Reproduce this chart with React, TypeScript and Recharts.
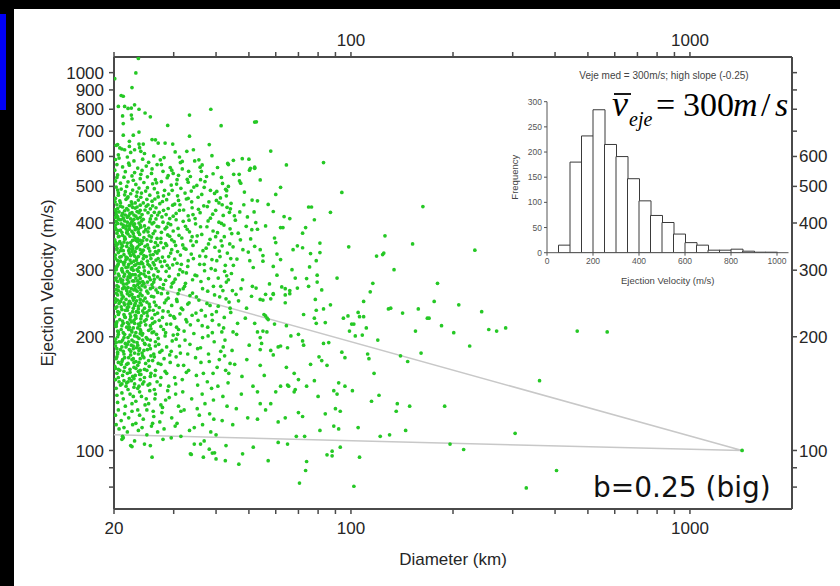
import React from 'react';
import { ScatterChart, Scatter, XAxis, YAxis, Label, BarChart, Bar } from 'recharts';

const FONT = '"Liberation Sans", Arial, Helvetica, sans-serif';

// ---- main chart axes ----
const DIAM_DOMAIN = [20, 2000];
const VEL_DOMAIN = [70, 1100];
const DIAM_TICKS = [20, 30, 40, 50, 60, 70, 80, 90, 100, 200, 300, 400, 500, 600, 700, 800, 900, 1000];
const BOTTOM_LABELS = [20, 100, 1000];
const TOP_LABELS = [100, 1000];
const VEL_TICKS = [80, 90, 100, 200, 300, 400, 500, 600, 700, 800, 900, 1000];
const LEFT_LABELS = [100, 200, 300, 400, 500, 600, 700, 800, 900, 1000];
const RIGHT_LABELS = [100, 200, 300, 400, 500, 600];

// ---- trend lines (b = 0.25) ----
const TREND_D = [20, 1425, 20];
const TREND_V = [110, 100, 290];

// ---- scatter: [diameter km, ejection velocity m/s] ----
const TOP_FRINGE: number[][] = [
  [23.6,1090],[23.2,998],[20.1,964],[22.6,913],[21,870],[21.3,866],[20.6,814],[21.5,814],[22,804],[22.5,806],
  [23,822],[23.7,800],[24.7,782],[25.6,764],[21.2,768],[22.5,772],[22.6,755],[21.3,733],[38.6,800],[33.4,772],
  [28.8,725],[41.4,724],[52.6,741],[23.7,696],[21.3,683],[22.8,683],[22.2,658],[20.5,645],[33.4,679],[25.9,665],
  [26.5,664],[27,651],[28.3,651],[29.8,647],[24.4,647],[20.8,632],[21.5,625],[22.2,638],[23,625],[23.7,647],
  [24,619],[38.2,645],[32.8,619],[34.3,625],[30.3,617],[43.3,575],[45,586],[50,590],[50.5,558],[52,558],
  [35.6,588],[36.4,570],[29.6,552],[31,535],[33.1,513],[36,521],[46.8,538],[47.3,510],[43.5,500],[40.2,485],[43,487],
];

const CORE_A: number[][] = [
  [20.3,642],[21.1,628],[22.4,615],[23.8,633],[20.6,606],[21.9,598],[24.6,611],[26.2,602],[28.1,596],[20.2,589],[22.9,584],[25.3,579],[27.4,588],
  [20.4,571],[21.2,563],[22.1,576],[23.5,559],[24.9,566],[26.8,571],[29.3,561],[20.1,552],[21.6,547],[23.0,544],[24.2,551],[25.8,541],[27.9,548],
  [20.5,536],[21.4,529],[22.6,533],[23.9,524],[25.1,530],[26.5,521],[28.7,527],[20.2,517],[20.9,510],[22.0,514],[23.2,506],[24.5,512],[26.0,508],[27.6,515],[29.5,504],
  [20.3,498],[21.0,492],[21.8,500],[22.7,489],[23.7,495],[24.8,486],[26.3,493],[28.2,488],[20.6,481],[21.5,475],[22.4,478],[23.3,471],[24.1,480],[25.5,474],[27.0,469],[29.0,477],
  [20.2,465],[20.8,458],[21.7,462],[22.5,455],[23.6,460],[24.4,452],[25.9,457],[27.3,450],[28.6,461],[20.4,447],[21.2,441],[22.2,445],[23.1,438],[24.9,443],[26.6,439],[29.8,446],
  [20.1,434],[20.7,428],[21.5,431],[22.3,424],[23.4,429],[24.2,421],[25.2,426],[26.9,420],[28.0,432],[20.5,416],[21.3,412],[22.1,418],[22.9,409],[23.9,414],[25.6,410],[27.7,415],[29.2,411],
  [20.3,404],[21.0,398],[21.9,402],[22.8,395],[23.7,400],[24.6,393],[25.9,398],[27.1,391],[28.9,399],[20.2,388],[20.9,383],[21.7,386],[22.6,380],[23.3,389],[24.8,384],[26.4,381],[28.3,386],
  [20.4,376],[21.2,371],[22.0,374],[22.9,368],[23.8,373],[24.5,366],[25.4,370],[26.8,364],[28.8,372],[20.1,361],[20.8,357],[21.6,363],[22.4,355],[23.2,360],[24.1,353],[25.7,358],[27.5,355],[29.6,361],
  [20.3,349],[21.0,344],[21.8,347],[22.7,341],[23.5,346],[24.4,339],[25.3,343],[26.5,336],[28.0,344],[20.6,334],[21.4,330],[22.2,333],[23.0,327],[24.0,332],[24.9,326],[26.1,330],[27.8,325],[29.4,333],
  [20.2,322],[20.9,317],[21.7,320],[22.5,314],[23.3,319],[24.3,312],[25.1,317],[26.3,310],[27.4,316],[28.7,309],[20.4,307],[21.1,303],[22.0,306],[22.8,300],[23.7,305],[24.6,299],[25.8,303],[27.0,298],[29.1,304],
  [20.1,295],[20.7,290],[21.5,293],[22.3,287],[23.1,292],[23.9,285],[24.8,289],[25.6,283],[26.9,288],[28.4,282],[20.5,280],[21.3,276],[22.1,279],[22.9,273],[23.8,278],[24.7,271],[25.9,275],[27.3,270],[29.7,277],
  [20.3,267],[21.0,262],[21.8,265],[22.6,259],[23.4,264],[24.2,257],[25.2,261],[26.2,255],[27.6,260],[28.9,253],[20.2,252],[20.9,248],[21.7,251],[22.4,245],[23.3,249],[24.1,243],[25.0,247],[26.6,242],[28.2,246],
  [20.4,240],[21.1,236],[21.9,239],[22.7,233],[23.6,237],[24.5,231],[25.4,235],[26.4,229],[27.9,234],[29.3,228],[20.1,226],[20.8,222],[21.6,225],[22.5,219],[23.2,224],[24.0,218],[24.9,222],[26.0,217],[27.2,221],[28.6,216],
  [20.3,213],[21.0,209],[21.8,212],[22.6,206],[23.5,211],[24.3,204],[25.3,208],[26.7,203],[28.0,209],[29.9,202],[20.5,200],[21.2,196],[22.0,199],[22.9,194],[23.7,198],[24.6,192],[25.6,196],[27.1,191],
  [20.2,189],[20.9,185],[21.7,188],[22.4,183],[23.3,187],[24.2,181],[25.1,185],[26.2,180],[27.7,184],[29.2,179],[20.4,177],[21.2,174],[22.1,176],[22.9,171],[23.9,175],[24.8,170],[26.0,173],[27.5,169],
  [20.1,167],[20.8,163],[21.5,166],[22.3,161],[23.2,165],[24.0,159],[25.0,163],[26.4,158],[28.3,162],[20.6,156],[21.4,153],[22.2,155],[23.0,150],[23.9,154],[25.2,149],[26.8,152],[29.0,148],
  [20.3,146],[21.1,142],[22.0,145],[22.8,139],[23.8,143],[24.9,137],[26.5,141],[28.4,136],[20.5,134],[21.6,131],[22.6,133],[23.5,128],[24.7,132],[26.1,127],[27.8,130],
  [20.2,124],[21.0,120],[22.1,122],[23.2,118],[24.4,121],[25.8,116],[27.3,119],[20.7,114],[21.9,112],[23.6,113],[25.0,110],[26.9,112],[21.3,108],[23.0,106],[24.6,104],[22.4,103],[27.9,107],[25.9,96],[29.5,108],
];

const CORE_B: number[][] = [
  [20.6,474],[21.9,466],[23.1,452],[24.0,468],[25.2,447],[26.4,463],
  [20.5,437],[21.6,420],[22.7,440],[23.9,432],[25.6,436],[26.3,427],
  [20.8,408],[21.8,393],[22.4,410],[23.0,398],[24.1,405],[25.3,388],[26.2,401],
  [20.6,382],[21.5,367],[22.2,385],[23.5,363],[24.5,379],[25.0,361],[26.1,375],
  [20.5,352],[21.4,356],[22.5,349],[23.8,351],[24.7,347],[25.5,337],[26.9,349],
  [20.9,338],[21.7,325],[22.6,336],[23.3,323],[24.5,328],[25.7,322],[26.8,333],
  [20.6,312],[21.4,310],[22.3,319],[23.0,309],[24.1,315],[25.5,308],[26.6,319],
  [20.3,301],[21.2,297],[22.2,294],[23.6,298],[24.5,293],[25.3,296],[26.2,291],
  [20.9,284],[21.9,283],[22.7,292],[23.5,281],[24.3,280],[25.1,279],[26.3,284],
  [20.6,271],[21.6,269],[22.5,268],[23.1,272],[24.0,266],[25.6,268],[26.6,266],
  [20.5,258],[21.3,255],[22.2,257],[23.0,254],[23.9,260],[24.7,253],[25.8,256],
  [20.7,245],[21.5,243],[22.1,240],[23.0,242],[23.9,246],[24.6,238],[25.4,244],
  [20.5,233],[21.4,229],[22.3,230],[23.1,228],[24.3,234],[25.1,227],[26.1,235],
  [20.4,219],[21.3,217],[22.1,216],[22.9,221],[23.8,214],[24.6,220],[25.6,214],
  [20.6,206],[21.5,203],[22.3,202],[23.2,205],[24.0,207],[24.9,199],[25.9,205],
  [20.7,194],[21.6,192],[22.5,190],[23.4,193],[24.3,196],[25.4,190],[26.5,194],
  [20.5,182],[21.4,180],[22.8,186],[23.6,180],[24.5,184],[25.7,178],
  [20.6,171],[21.8,169],[22.6,174],[23.5,168],[24.5,176],[25.4,167],
  [20.4,160],[21.2,158],[22.7,157],[23.6,162],[24.6,156],[25.7,160],
  [20.9,149],[21.8,151],[22.9,147],[24.3,150],[25.5,144],
];

const CORE_C: number[][] = [
  [20.7,594],[22.2,569],[24.3,590],[25.9,556],[27.6,571],[29.9,541],[31.8,582],[20.4,528],[22.8,519],[24.0,538],[26.7,511],[28.9,534],[30.7,521],[33.2,548],
  [20.5,489],[21.6,484],[23.4,483],[25.1,496],[26.9,481],[28.0,472],[29.7,488],[31.0,459],[32.4,480],[33.9,455],[20.9,452],[22.0,469],[23.9,446],[25.0,462],[26.0,444],[27.8,456],[28.9,437],[30.2,449],[32.1,433],[34.2,421],
  [20.3,422],[21.1,419],[22.6,426],[23.2,417],[24.7,433],[25.8,418],[27.2,427],[28.5,421],[29.9,417],[31.2,432],[33.3,407],
  [20.6,410],[21.5,405],[22.5,401],[24.4,409],[25.5,403],[26.6,410],[27.9,402],[29.4,396],[30.5,408],[32.5,392],
  [20.2,395],[21.3,390],[22.2,392],[23.1,384],[24.0,390],[25.2,379],[26.8,392],[27.6,378],[28.6,390],[29.9,381],[31.1,371],[32.9,385],[34.0,368],
  [20.7,369],[21.8,377],[22.7,360],[23.6,378],[24.3,359],[25.8,367],[26.5,355],[27.5,364],[28.4,353],[29.2,369],[30.1,357],[31.9,350],[33.7,359],
  [20.4,340],[21.2,348],[22.1,338],[23.3,343],[24.2,335],[25.1,350],[26.3,345],[27.1,338],[28.6,349],[29.6,340],[30.8,336],[32.2,343],[33.8,331],
  [20.8,325],[21.5,315],[22.4,328],[23.5,313],[24.4,322],[25.6,329],[26.1,314],[27.0,322],[28.2,317],[29.0,326],[30.2,321],[31.6,311],[33.1,318],
  [20.5,309],[21.7,305],[22.5,302],[23.2,310],[24.5,306],[25.2,311],[26.6,303],[27.7,307],[28.5,298],[29.8,310],[31.3,301],[32.7,295],
  [20.3,286],[21.2,282],[22.0,288],[22.9,281],[23.7,290],[24.5,277],[25.4,287],[26.2,279],[27.4,284],[28.0,275],[29.1,289],[30.0,279],[31.0,292],[32.3,272],[34.1,283],
  [20.6,265],[21.4,271],[22.3,263],[23.1,267],[24.2,273],[25.0,264],[26.0,270],[26.9,262],[27.9,268],[28.8,261],[29.5,271],[30.9,260],[32.0,268],[33.5,257],
  [20.2,247],[21.1,252],[22.0,244],[22.8,250],[23.6,241],[24.4,249],[25.5,240],[26.3,247],[27.2,239],[28.5,250],[29.6,242],[30.7,248],[31.9,236],[33.0,244],
  [20.7,232],[21.6,235],[22.4,226],[23.3,233],[24.1,227],[25.0,232],[25.9,224],[26.9,231],[27.8,225],[28.9,233],[30.0,226],[31.3,230],[32.6,222],[34.0,228],
  [20.3,215],[21.2,220],[22.2,212],[23.0,217],[23.9,209],[24.8,215],[25.7,210],[26.4,219],[27.5,213],[28.4,205],[29.4,216],[30.6,212],[32.2,207],[33.6,215],
  [20.6,203],[21.4,199],[22.5,208],[23.4,200],[24.2,202],[25.1,197],[26.2,206],[27.0,198],[28.3,201],[29.7,195],[30.8,203],[32.4,196],
  [20.3,193],[21.1,188],[22.1,194],[22.8,189],[23.7,184],[24.7,191],[25.6,186],[26.5,189],[27.3,182],[28.6,188],[29.5,183],[31.2,189],[33.0,180],
  [20.5,180],[21.5,176],[22.4,179],[23.2,172],[24.3,178],[25.3,173],[26.3,177],[27.0,170],[28.1,175],[29.3,171],[30.5,177],[32.1,168],
  [20.2,165],[21.0,169],[21.9,160],[22.9,166],[23.8,159],[24.6,164],[25.6,157],[26.5,163],[27.5,156],[28.6,160],[30.2,156],[32.7,161],
  [20.7,152],[21.7,148],[22.5,153],[23.5,146],[24.5,152],[25.5,150],[26.3,145],[27.4,149],[28.8,144],[30.4,150],[31.9,143],
  [20.4,140],[21.3,137],[22.3,141],[23.2,135],[24.1,139],[25.3,133],[26.4,137],[27.5,132],[29.1,138],[31.0,131],
  [20.6,128],[21.5,125],[22.6,127],[23.8,124],[25.0,128],[26.2,123],[27.7,126],[29.6,122],[31.5,127],
  [20.3,117],[21.4,115],[22.7,117],[24.2,115],[26.0,118],[28.1,114],[30.3,116],[33.4,113],
];

const CORE_D: number[][] = [
  [20.15,455],[20.9,443],[21.8,437],[22.6,449],[23.4,441],[20.3,429],[21.2,424],[22.0,433],[22.9,420],[23.7,426],
  [20.2,414],[21.0,408],[21.9,414],[22.7,405],[23.5,411],[20.5,399],[21.3,395],[22.3,397],[23.0,391],[23.9,395],
  [20.3,384],[21.1,378],[21.9,381],[22.8,375],[23.6,385],[20.6,368],[21.5,363],[22.3,369],[23.1,365],[23.9,360],
  [20.2,356],[21.0,352],[21.9,354],[22.7,346],[23.5,357],[20.4,343],[21.3,338],[22.2,342],[23.1,336],[23.9,340],
  [20.2,329],[21.0,326],[21.9,323],[22.8,331],[23.6,326],[20.5,318],[21.3,314],[22.1,311],[22.9,317],[23.8,312],
  [20.3,304],[21.1,300],[21.9,298],[22.6,305],[23.4,301],[20.6,293],[21.4,289],[22.4,291],[23.2,286],[24.0,294],
  [20.2,283],[21.0,279],[21.8,276],[22.7,281],[23.5,275],[20.4,273],[21.2,268],[22.0,270],[22.9,266],[23.7,270],
  [20.3,261],[21.1,258],[21.9,260],[22.7,254],[23.6,256],[20.5,250],[21.4,246],[22.2,248],[23.1,245],[23.9,251],
  [20.2,238],[21.0,240],[21.9,235],[22.8,238],[23.6,232],[20.6,229],[21.5,226],[22.3,222],[23.2,227],[24.0,223],
  [20.3,217],[21.1,214],[21.9,218],[22.8,211],[23.6,216],[20.5,207],[21.3,205],[22.1,209],[23.0,201],[23.9,204],
  [20.2,197],[21.0,194],[21.9,191],[22.6,196],[23.5,190],[20.4,186],[21.3,183],[22.2,185],[23.0,181],[23.8,186],
  [20.3,175],[21.1,172],[22.0,170],[22.8,175],[23.7,171],[20.6,164],[21.4,162],[22.3,164],[23.1,158],[23.9,163],
  [20.2,154],[21.1,150],[22.0,152],[22.9,155],[23.7,148],
];

const MID_CLOUD: number[][] = [
  [31.2,598],[34.6,584],[38.9,603],[43.5,571],[47.8,592],[31.8,556],[36.2,548],[40.4,561],[45.1,538],[50.2,552],[32.9,522],[37.5,531],[41.8,509],[30.6,507],[35.1,503],[46.9,517],
  [31.5,494],[33.8,486],[36.9,497],[39.6,479],[42.7,491],[48.5,483],[30.8,472],[32.7,463],[35.4,468],[38.1,455],[41.2,466],[44.3,451],[51.1,460],[31.3,447],[34.0,439],[36.8,444],[39.9,432],[43.1,440],[47.0,428],[30.5,424],[33.1,418],[35.9,426],[38.5,412],[42.0,419],[45.6,407],[49.5,415],[32.0,404],
  [34.8,398],[37.6,391],[40.8,402],[44.0,386],[30.9,387],[33.4,379],[36.3,373],[39.2,381],[42.3,368],[46.5,376],[50.6,363],[31.7,365],[35.0,357],[38.0,352],[41.4,359],[44.9,346],[30.4,349],[32.6,341],[36.6,338],[39.7,345],[43.2,333],[48.0,340],[31.4,329],[34.3,322],[37.3,326],[40.2,318],[46.1,321],[30.7,313],[33.0,307],[35.8,311],[38.7,303],[42.6,309],[51.5,305],
  [31.9,297],[34.7,291],[37.0,299],[40.6,286],[44.4,294],[30.3,284],[32.5,277],[36.1,280],[39.3,272],[42.9,279],[47.4,268],[31.2,266],[34.1,261],[37.8,264],[41.0,255],[45.8,259],[30.6,251],[33.3,246],[35.6,250],[38.4,242],[43.7,247],[49.2,238],[31.6,238],[34.9,231],[37.2,227],[40.1,233],[30.2,224],[32.8,219],[36.4,214],[39.0,221],[42.1,211],[46.3,217],[31.0,209],[34.4,204],[37.9,201],[41.6,206],
  [30.5,197],[33.5,191],[36.0,187],[39.5,194],[44.6,184],[31.4,181],[34.8,176],[38.2,172],[42.4,178],[30.9,168],[33.2,163],[36.7,160],[40.3,166],[47.7,157],[31.8,154],[35.3,149],[38.8,146],[43.4,151],[30.4,141],[33.9,137],[37.1,133],[41.9,139],[32.2,128],[35.7,124],[39.4,121],[30.7,118],[34.5,115],[38.6,112],[44.8,117],[31.5,109],[36.9,106],[42.8,103],[33.6,98],[40.0,95],[46.7,92],
  [40.8,452],[44.1,436],[48.3,447],[51.8,428],[41.5,399],[45.3,418],[49.1,392],[52.4,401],[40.4,377],[47.2,361],[51.0,384],[43.9,352],[49.8,335],[41.1,326],[45.0,309],[50.3,318],[43.0,290],[47.9,283],[51.2,272],[41.9,265],[46.6,249],[50.9,256],[44.2,232],[48.8,224],[42.5,196],[46.0,203],[50.1,190],[41.3,183],[45.4,169],[49.3,174],[43.6,160],[47.5,141],[51.4,148],[45.9,129],[49.6,122],
];

const MID_B: number[][] = [
  [31.4,578],[35.9,562],[39.2,540],[33.6,531],[37.1,515],[41.5,528],[34.4,498],[38.5,488],[42.9,472],[36.3,476],[40.1,459],[33.1,465],[37.7,442],[41.7,447],[35.5,435],[39.1,422],
  [43.8,427],[34.7,411],[37.9,405],[42.2,395],[36.0,391],[39.9,368],[44.5,375],[35.2,370],[38.4,362],[41.7,348],[34.2,349],[37.4,343],[40.9,337],[44.2,322],[35.8,327],[38.9,320],
  [42.4,298],[36.9,311],[39.8,300],[43.5,283],[35.1,290],[38.0,285],[41.3,272],[44.7,265],[36.5,268],[39.6,258],[42.8,252],[35.0,255],[37.6,245],[40.6,241],[44.0,238],[36.2,235],
  [38.9,229],[42.3,225],[35.4,221],[37.8,212],[40.8,215],[44.9,206],[36.5,199],[39.0,205],[42.0,188],[35.3,186],[38.0,180],[40.9,174],[44.0,170],[36.1,171],[39.2,160],[42.7,163],
  [35.0,158],[37.7,152],[40.5,148],[36.4,141],[39.3,136],[43.1,131],[35.2,129],[38.3,125],[41.7,120],[36.5,117],[40.0,110],[34.5,104],
];

const LOW_EDGE: number[][] = [
  [22.6,102.4],[25.6,103],[33.8,97.6],[36,104],[36.7,96],[38.2,100.8],[39.6,98.6],[39,98.4],[42.6,94],[47.9,98],[51.5,102],[21.1,107],[21.2,109],
];

const OUTER_CLOUD: number[][] = [
  [52,740],[58,620],[64.5,570],[83,578],[94,482],[163,442],[52,562],[54,520],[53,458],[62,497],[60,476],[57,448],[59,429],[75,441],[76.5,441],[87,427],
  [63.5,416],[66,411],[78,408],[53,385],[56,393],[62,389],[63,389],[73.5,389],[72,376],[59.5,365],[60,355],[81,354],[98.5,346],[126,370],[152,352],[232,339],
  [119,327],[124,330],[125,333],[134,301],[116,277],[114,263],[180,277],[91,286],[69.5,348],[72,344],[67.5,340],[52,347],[54,340],[55,328],[55,317],[60.5,331],
  [62,320],[76,332],[81,334],[79,318],[59,307],[60.5,291],[57.5,276],[59,259],[56,259],[67,301],[68.5,286],[62.5,271],[64,268],[66,265],[69.5,269],[74,285],
  [75.5,306],[75,272],[79.5,291],[82,266],[79.5,279],[52.5,269],
  [109,248],[129,237],[131,238],[142,231],[158,237],[155,207],[95,224],[98,227],[100.5,216],[102,216],[105,232],[106,226],[109,226],[111,211],[99,207],[103,201],
  [108,202],[120,196],[112,180],[113,175],[140,178],[147,172],[117,160],[115,135],[121,140],[137,133],[136,127],[149,131],[145,113],[122,109],[130,110],[105,115],
  [106,96],[102,80.4],[93,102],[88,99.6],[88,96.8],[85,97.4],[74,93.5],[73.5,88.5],[70.5,82],[57,94],[61,105],[65,104],[69,109],[73,109],[89,116],[92,114],
  [81,113],[84,125],[90,129],[93,127],[70,126],[72,123],[61,119],[64,122],[53,121],[56,128],[58,133],[54,133],[53,143],[80,139],[89,144],[91,141],
  [96,148],[101,144],[92,151],[78,153],[74,148],[70,154],[68.5,145],[68,143],[65,149],[65.5,148],[62,148],[60,143],[68,160],[64.5,166],[76,169],[82,173],
  [85,168],[80.5,177],[94,182],[96,176],[83,192],[86,193],[70,203],[72,195],[72.5,190],[66.5,201],[65,187],[61,188],[62,189],[59,179],[58,184],[54,168],
  [55.5,158],[72.5,229],[78,224],[79,217],[84,218],[87,243],[79,235],[83,237],[64,246],[64.5,214],[54,251],[55,250],[58,252],[59,260],[59.5,216],[55,207],
  [56.5,206],[54,199],[56,227],[56.6,224],[55.4,229],[57,222],[52,217],[53,206],[54.5,192],[54,185],[64,258],[66,260],[78.5,251],
];

const FAR_POINTS: number[][] = [
  [176,248],[208,243],[168,224],[170,224],[185,214],[243,233],[201,205],[255,209],[269,207],[286,211],[224,189],[465,207],
  [570,206],[360,153],[189,131],[305,111],[196,104],[215,100.6],[404,88.5],[329,79.6],[1425,100],[161,181],
];

// ---- inset histogram (bins of 50 m/s) ----
const HIST_BIN_START = [0, 50, 100, 150, 200, 250, 300, 350, 400, 450, 500, 550, 600, 650, 700, 750, 800, 850, 900, 950, 1000];
const HIST_COUNTS = [0, 15, 180, 232, 284, 215, 191, 147, 103, 74, 60, 37, 20, 15, 5, 5, 7, 3, 1, 1, 0];
const HIST_Y_TICKS = [0, 50, 100, 150, 200, 250, 300];

const scatterPoints = [
  ...CORE_A, ...CORE_B, ...CORE_C, ...CORE_D, ...MID_CLOUD, ...MID_B, ...TOP_FRINGE, ...LOW_EDGE, ...OUTER_CLOUD, ...FAR_POINTS,
].map(([d, v]) => ({ d, v }));
const trendData = TREND_D.map((d, i) => ({ d, v: TREND_V[i] }));
const histData = HIST_BIN_START.map((b, i) => ({ bin: b, count: HIST_COUNTS[i] }));

const AXIS = '#4a4a4a';
const TEXT = '#262626';
const HIST_BAND = 11.5; // width of one 50 m/s bin in the inset, px

const Dot = (p: any) => <circle cx={p.cx} cy={p.cy} r={1.85} fill="#25c825" />;
const NoDot = () => <g />;

const fmt = (labels: number[]) => (v: number) => (labels.includes(v) ? String(v) : '');

// tick on the left edge of each bin (histogram edges), not its centre
const HistTick = (p: any) => {
  const x = p.x - HIST_BAND / 2;
  return (
    <g>
      <line x1={x} x2={x} y1={p.y - 5} y2={p.y - 2} stroke="#555" />
      <text x={x} y={p.y} dy="0.71em" textAnchor="middle" fontSize={8.5} fill="#555" fontFamily={FONT}>
        {p.payload.value}
      </text>
    </g>
  );
};

export default function App() {
  const tick = { fill: TEXT, fontSize: 17, fontFamily: FONT };
  const smallTick = { fill: '#555', fontSize: 8.5, fontFamily: FONT };
  return (
    <div style={{ position: 'absolute', left: 0, top: 0, width: 840, height: 586, background: '#000', overflow: 'hidden' }}>
      <div style={{ position: 'absolute', left: 14, top: 9, width: 826, height: 577, background: '#fff' }} />
      <div style={{ position: 'absolute', left: 0, top: 14, width: 6, height: 96, background: '#0000f5' }} />
      <div style={{ position: 'absolute', left: 0, top: 0 }}>
        <ScatterChart width={840} height={586} margin={{ top: 27, right: 0, bottom: 21, left: 14 }}>
          <XAxis xAxisId="b" dataKey="d" type="number" scale="log" domain={DIAM_DOMAIN} allowDataOverflow
            ticks={DIAM_TICKS} tickFormatter={fmt(BOTTOM_LABELS)} interval={0} height={56}
            tick={tick} tickSize={5} tickMargin={8}
            axisLine={{ stroke: AXIS, strokeWidth: 2 }} tickLine={{ stroke: AXIS, strokeWidth: 1.5 }}>
            <Label value="Diameter (km)" position="insideBottom" offset={0}
              style={{ fill: TEXT, fontSize: 17, fontFamily: FONT, textAnchor: 'middle' }} />
          </XAxis>
          <XAxis xAxisId="t" orientation="top" dataKey="d" type="number" scale="log" domain={DIAM_DOMAIN} allowDataOverflow
            ticks={DIAM_TICKS} tickFormatter={fmt(TOP_LABELS)} interval={0} height={30}
            tick={tick} tickSize={5} tickMargin={6}
            axisLine={{ stroke: AXIS, strokeWidth: 2 }} tickLine={{ stroke: AXIS, strokeWidth: 1.5 }} />
          <YAxis yAxisId="l" dataKey="v" type="number" scale="log" domain={VEL_DOMAIN} allowDataOverflow
            ticks={VEL_TICKS} tickFormatter={fmt(LEFT_LABELS)} interval={0} width={100}
            tick={tick} tickSize={5} tickMargin={5}
            axisLine={{ stroke: AXIS, strokeWidth: 2 }} tickLine={{ stroke: AXIS, strokeWidth: 1.5 }}>
            <Label value="Ejection Velocity (m/s)" angle={-90} position="insideLeft" offset={33}
              style={{ fill: TEXT, fontSize: 17, fontFamily: FONT, textAnchor: 'middle' }} />
          </YAxis>
          <YAxis yAxisId="r" orientation="right" dataKey="v" type="number" scale="log" domain={VEL_DOMAIN} allowDataOverflow
            ticks={VEL_TICKS} tickFormatter={fmt(RIGHT_LABELS)} interval={0} width={48}
            tick={tick} tickSize={5} tickMargin={2}
            axisLine={{ stroke: AXIS, strokeWidth: 2 }} tickLine={{ stroke: AXIS, strokeWidth: 1.5 }} />
          <Scatter data={trendData} xAxisId="t" yAxisId="r" dataKey="v" shape={NoDot}
            line={{ stroke: '#c8c8c8', strokeWidth: 1.5 }} isAnimationActive={false} />
          <Scatter data={scatterPoints} xAxisId="b" yAxisId="l" dataKey="v" shape={Dot} isAnimationActive={false} />
        </ScatterChart>
      </div>
      <div style={{ position: 'absolute', left: 500, top: 60 }}>
        <BarChart width={300} height={230} data={histData} margin={{ top: 41.7, right: 11.5, bottom: 0, left: 0 }}
          barCategoryGap={0} barGap={0}>
          <XAxis dataKey="bin" interval={3} height={37.3} tick={<HistTick />} tickLine={false} tickSize={3} tickMargin={2}
            axisLine={{ stroke: '#555', strokeWidth: 1 }}>
            <Label value="Ejection Velocity (m/s)" position="insideBottom" offset={6}
              style={{ fill: '#444', fontSize: 9.5, fontFamily: FONT, textAnchor: 'middle' }} />
          </XAxis>
          <YAxis type="number" domain={[0, 300]} allowDataOverflow ticks={HIST_Y_TICKS} interval={0} width={47}
            tick={smallTick} tickSize={3} tickMargin={2}
            axisLine={{ stroke: '#555', strokeWidth: 1 }} tickLine={{ stroke: '#555' }}>
            <Label value="Frequency" angle={-90} position="insideLeft" offset={15}
              style={{ fill: '#444', fontSize: 9.5, fontFamily: FONT, textAnchor: 'middle' }} />
          </YAxis>
          <Bar dataKey="count" fill="#fff" stroke="#3a3a3a" strokeWidth={1} isAnimationActive={false} />
        </BarChart>
      </div>
      <svg width={840} height={586} style={{ position: 'absolute', left: 0, top: 0, pointerEvents: 'none' }}>
        <text x={664} y={79} textAnchor="middle" fontSize={10} fill="#444" fontFamily={FONT}>
          Veje med = 300m/s; high slope (-0.25)
        </text>
        <line x1={614} x2={631} y1={94} y2={94} stroke="#000" strokeWidth={1.8} />
        <text fontFamily='"Liberation Serif", "Times New Roman", serif' fill="#000">
          <tspan x={612} y={116} fontStyle="italic" fontSize={36}>v</tspan>
          <tspan x={629} y={126} fontStyle="italic" fontSize={20}>eje</tspan>
          <tspan x={656} y={116} fontSize={34}>=</tspan>
          <tspan x={683} y={116} fontSize={34}>300</tspan>
          <tspan x={733} y={116} fontStyle="italic" fontSize={34}>m</tspan>
          <tspan x={761} y={116} fontSize={34}>/</tspan>
          <tspan x={775} y={116} fontStyle="italic" fontSize={34}>s</tspan>
        </text>
        <text x={593} y={497} fontSize={28} fill="#111" fontFamily='"DejaVu Sans", sans-serif'>b=0.25 (big)</text>
      </svg>
    </div>
  );
}
